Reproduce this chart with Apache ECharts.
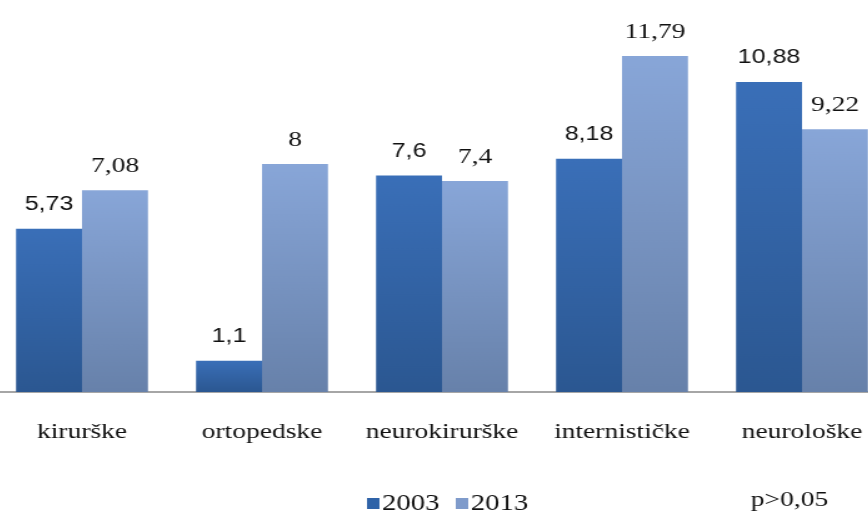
<!DOCTYPE html>
<html>
<head>
<meta charset="utf-8">
<script src="https://cdn.jsdelivr.net/npm/echarts@6/dist/echarts.min.js"></script>
<style>
html,body{margin:0;padding:0;background:#fff;overflow:hidden;width:868px;height:512px;position:relative;}
#chart{position:absolute;left:0;top:0;width:720px;height:512px;transform:translateX(-8px) scaleX(1.25);transform-origin:0 0;}
</style>
</head>
<body>
<div id="chart"></div>
<script>
const categories = ['kirurške', 'ortopedske', 'neurokirurške', 'internističke', 'neurološke'];
const values2003 = [5.73, 1.1, 7.6, 8.18, 10.88];
const values2013 = [7.08, 8, 7.4, 11.79, 9.22];
const seriesNames = ['2003', '2013'];
const noteText = 'p>0,05';

const fmt = p => String(p.value).replace('.', ',');
const grad = (a, b) => new echarts.graphic.LinearGradient(0, 0, 0, 1, [{offset: 0, color: a}, {offset: 1, color: b}]);

const chart = echarts.init(document.getElementById('chart'));
chart.setOption({
  animation: false,
  backgroundColor: '#ffffff',
  grid: {left: 0, right: 0, top: 50, bottom: 120, containLabel: false},
  xAxis: {
    type: 'category',
    data: categories,
    axisLine: {show: true, lineStyle: {color: '#a6a6a6', width: 2}},
    axisTick: {show: false},
    axisLabel: {interval: 0, margin: 29, color: '#111', fontFamily: 'Liberation Serif', fontSize: 22}
  },
  yAxis: {type: 'value', min: 0, max: 12, show: false, splitLine: {show: false}},
  legend: {
    data: [
      {name: seriesNames[0], itemStyle: {color: '#2f63a8'}},
      {name: seriesNames[1], itemStyle: {color: '#7f9bcb'}}
    ],
    left: 295, top: 487,
    icon: 'rect', itemWidth: 10, itemHeight: 11, itemGap: 13,
    textStyle: {color: '#111', fontFamily: 'Liberation Serif', fontSize: 23, padding: [0, 0, 0, -3]}
  },
  graphic: [{
    type: 'text', left: 607, top: 489,
    style: {text: noteText, fill: '#111', font: '22px "Liberation Serif"'}
  }],
  series: [
    {
      name: seriesNames[0], type: 'bar', data: values2003,
      barGap: '0%', barCategoryGap: '26.7%',
      itemStyle: {color: grad('#3a6fb8', '#2b5791')},
      label: {show: true, position: 'top', distance: 14, formatter: fmt, color: '#111', fontFamily: 'Liberation Sans', fontSize: 20}
    },
    {
      name: seriesNames[1], type: 'bar', data: values2013,
      barGap: '0%', barCategoryGap: '26.7%',
      itemStyle: {color: grad('#88a6d8', '#6781aa')},
      label: {show: true, position: 'top', distance: 13, formatter: fmt, color: '#111', fontFamily: 'Liberation Serif', fontSize: 22}
    }
  ]
});
</script>
</body>
</html>
